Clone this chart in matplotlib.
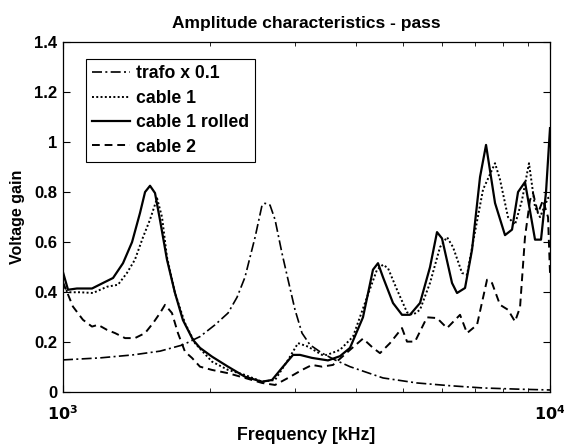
import numpy as np
import matplotlib
matplotlib.use('Agg')
import matplotlib.pyplot as plt

plt.rcParams['font.family'] = ['Liberation Sans', 'DejaVu Sans']
plt.rcParams['font.weight'] = 'bold'
plt.rcParams['mathtext.fontset'] = 'dejavusans'
plt.rcParams['mathtext.default'] = 'bf'

# frequency [kHz] / gain pairs
trafo_f = [1000, 1191, 1392, 1582, 1763, 1911, 2052, 2182, 2277, 2364, 2480, 2563, 2599, 2661,
           2725, 2816, 2898, 2995, 3096, 3215, 3403, 3618, 3884, 4540, 5330, 6230, 7290, 8680, 10000]
trafo_v = [0.13, 0.138, 0.15, 0.165, 0.19, 0.223, 0.27, 0.317, 0.38, 0.46, 0.62, 0.748, 0.755, 0.748,
           0.69, 0.556, 0.45, 0.33, 0.237, 0.19, 0.157, 0.13, 0.103, 0.058, 0.038, 0.027, 0.018, 0.013, 0.01]

cable1_f = [1000, 1024, 1084, 1152, 1231, 1297, 1353, 1405, 1460, 1509, 1560, 1597, 1635, 1698,
            1780, 1866, 2023, 2182, 2364, 2563, 2725, 2898, 3038, 3185, 3403, 3484, 3705, 3940,
            4209, 4413, 4540, 4649, 4851, 5086, 5232, 5408, 5670, 5945, 6145, 6322, 6597, 6755,
            6950, 7286, 7711, 7894, 8199, 8475, 8761, 9054, 9316, 9538, 9906, 10000]
cable1_v = [0.42, 0.40, 0.40, 0.397, 0.422, 0.43, 0.477, 0.53, 0.62, 0.69, 0.775, 0.70, 0.54, 0.397,
            0.277, 0.197, 0.123, 0.09, 0.07, 0.043, 0.05, 0.13, 0.197, 0.183, 0.15, 0.15, 0.17, 0.223,
            0.38, 0.49, 0.51, 0.496, 0.41, 0.32, 0.31, 0.33, 0.437, 0.58, 0.62, 0.58, 0.477, 0.47,
            0.60, 0.81, 0.915, 0.85, 0.70, 0.67, 0.768, 0.915, 0.74, 0.70, 0.776, 0.78]

rolled_f = [1000, 1024, 1068, 1147, 1208, 1267, 1328, 1386, 1439, 1474, 1509, 1545, 1582, 1635,
            1698, 1763, 1849, 1911, 2023, 2182, 2364, 2563, 2687, 2816, 2967, 3067, 3246, 3501,
            3705, 3884, 4130, 4330, 4434, 4540, 4760, 4967, 5158, 5408, 5670, 5861, 6001, 6292,
            6443, 6691, 6917, 7183, 7390, 7711, 8083, 8356, 8597, 8884, 9316, 9583, 9813, 10000]
rolled_v = [0.48, 0.41, 0.415, 0.415, 0.437, 0.457, 0.516, 0.60, 0.716, 0.80, 0.825, 0.796, 0.688, 0.53,
            0.397, 0.289, 0.21, 0.178, 0.143, 0.103, 0.063, 0.043, 0.05, 0.098, 0.15, 0.15, 0.138, 0.128,
            0.145, 0.178, 0.30, 0.49, 0.516, 0.46, 0.357, 0.31, 0.31, 0.357, 0.50, 0.64, 0.615, 0.437,
            0.397, 0.417, 0.57, 0.86, 0.988, 0.756, 0.628, 0.65, 0.80, 0.84, 0.61, 0.61, 0.80, 1.055]

cable2_f = [1000, 1048, 1099, 1147, 1180, 1231, 1279, 1341, 1405, 1474, 1531, 1582, 1620, 1674,
            1722, 1780, 1840, 1911, 2023, 2182, 2364, 2563, 2725, 2898, 3096, 3246, 3403, 3584,
            3884, 4130, 4330, 4476, 4693, 4967, 5086, 5282, 5590, 5861, 6145, 6535, 6755, 7082,
            7425, 7602, 7894, 8199, 8475, 8679, 8884, 9097, 9228, 9449, 9674, 9906, 10000]
cable2_v = [0.44, 0.343, 0.29, 0.263, 0.27, 0.25, 0.237, 0.217, 0.217, 0.237, 0.277, 0.317, 0.35, 0.317,
            0.237, 0.163, 0.138, 0.103, 0.09, 0.077, 0.058, 0.038, 0.03, 0.058, 0.09, 0.11, 0.103, 0.11,
            0.17, 0.215, 0.178, 0.157, 0.197, 0.257, 0.203, 0.203, 0.30, 0.297, 0.257, 0.31, 0.237, 0.27,
            0.45, 0.437, 0.35, 0.33, 0.283, 0.34, 0.62, 0.768, 0.796, 0.716, 0.768, 0.70, 0.477]

yticks = [0, 0.2, 0.4, 0.6, 0.8, 1, 1.2, 1.4]
ytick_labels = ['0', '0.2', '0.4', '0.6', '0.8', '1', '1.2', '1.4']

fig = plt.figure(figsize=(5.64, 4.46), dpi=100)
ax = fig.add_axes([0.1117, 0.12, 0.8635, 0.7865])

ax.plot(trafo_f, trafo_v, color='black', lw=1.2, ls=(0, (6, 2, 1.2, 2)), label='trafo x 0.1')
ax.plot(cable1_f, cable1_v, color='black', lw=1.4, ls=(0, (1, 1.2)), label='cable 1')
ax.plot(rolled_f, rolled_v, color='black', lw=1.6, ls='-', label='cable 1 rolled')
ax.plot(cable2_f, cable2_v, color='black', lw=1.4, ls=(0, (4, 2.5)), label='cable 2')

ax.set_xscale('log')
ax.set_xlim(1000, 10000)
ax.set_ylim(0, 1.4)
ax.set_xticks([1000, 10000])
ax.set_xticklabels([r'$\mathbf{10^3}$', r'$\mathbf{10^4}$'])
ax.set_xticks([k * 1000 for k in range(2, 10)], minor=True)
ax.xaxis.set_minor_formatter(matplotlib.ticker.NullFormatter())
ax.set_yticks(yticks)
ax.set_yticklabels(ytick_labels)
ax.tick_params(which='both', direction='in', top=True, right=True)
ax.tick_params(axis='y', labelsize=12, pad=4)
ax.tick_params(axis='x', labelsize=11.5, pad=8.5)
ax.tick_params(which='major', length=5)
ax.tick_params(which='minor', length=3)
for s in ax.spines.values():
    s.set_linewidth(0.9)

ax.set_title('Amplitude characteristics - pass', fontsize=12.5, fontweight='bold', pad=10)
ax.set_xlabel('Frequency [kHz]', fontsize=12.8, fontweight='bold', labelpad=3)
ax.set_ylabel('Voltage gain', fontsize=11.5, fontweight='bold', labelpad=7)

leg = ax.legend(loc='upper left', bbox_to_anchor=(0.047, 0.95), borderaxespad=0, fancybox=False,
                edgecolor='black', framealpha=1, handlelength=2.15, handletextpad=0.35,
                labelspacing=0.42, borderpad=0.35, prop={'size': 12.7, 'weight': 'bold'})
leg.get_frame().set_linewidth(0.8)

plt.savefig('out.png', dpi=100)
